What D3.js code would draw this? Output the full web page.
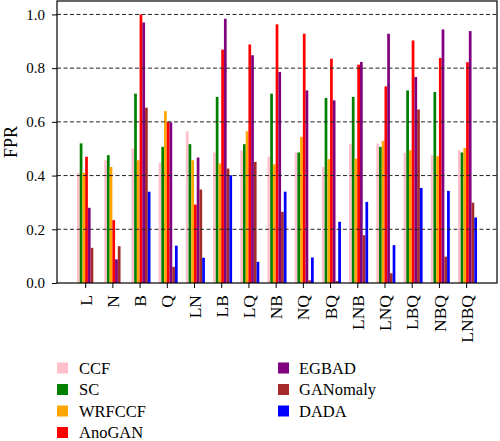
<!DOCTYPE html>
<html>
<head>
<meta charset="utf-8">
<script src="https://cdn.jsdelivr.net/npm/d3@7"></script>
<style>
  html, body { margin: 0; padding: 0; background: #fff; }
</style>
</head>
<body>
<svg id="chart" width="500" height="441"></svg>
<script>
const categories = ["L","N","B","Q","LN","LB","LQ","NB","NQ","BQ","LNB","LNQ","LBQ","NBQ","LNBQ"];
const seriesNames = ["CCF","SC","WRFCCF","AnoGAN","EGBAD","GANomaly","DADA"];
const seriesColors = ["#FFC0CB","#008000","#FFA500","#FF0000","#800080","#A52A2A","#0000FF"];
const CCF      = [0.41,0.457,0.50,0.449,0.565,0.486,0.494,0.47,0.486,0.432,0.517,0.519,0.485,0.476,0.494];
const SC       = [0.52,0.476,0.705,0.507,0.517,0.693,0.517,0.705,0.486,0.689,0.693,0.507,0.717,0.711,0.486];
const WRFCCF   = [0.41,0.432,0.457,0.64,0.457,0.445,0.565,0.442,0.544,0.461,0.463,0.529,0.494,0.472,0.503];
const AnoGAN   = [0.47,0.234,1.0,0.60,0.292,0.869,0.888,0.963,0.928,0.835,0.813,0.732,0.903,0.838,0.822];
const EGBAD    = [0.28,0.088,0.97,0.598,0.467,0.984,0.848,0.786,0.717,0.68,0.823,0.928,0.767,0.944,0.938];
const GANomaly = [0.131,0.137,0.653,0.06,0.348,0.426,0.451,0.265,0.01,0.007,0.178,0.036,0.646,0.098,0.299];
const DADA     = [0.0,0.0,0.34,0.139,0.094,0.401,0.079,0.34,0.095,0.228,0.302,0.141,0.354,0.343,0.244];
const yTicks = [0.0,0.2,0.4,0.6,0.8,1.0];
const yLabel = "FPR";

const seriesValues = [CCF, SC, WRFCCF, AnoGAN, EGBAD, GANomaly, DADA];

(function () {
const FONT = "'Liberation Serif', 'DejaVu Serif', serif";
const svg = d3.select("#chart");
const pLeft = 57, pRight = 497, pTop = 1, pBottom = 283;
const barW = 0.1;
const nS = seriesNames.length;
const span = categories.length - 1 + nS * barW;
const margin = span * 0.05;

const x = d3.scaleLinear().domain([-margin, span + margin]).range([pLeft, pRight]);
const y = d3.scaleLinear().domain([0, 1.05]).range([pBottom, pTop]);

// bars
seriesValues.forEach((vals, s) => {
  svg.append("g").selectAll("rect").data(vals).join("rect")
    .attr("x", (d, i) => x(i + s * barW))
    .attr("width", x(barW) - x(0))
    .attr("y", d => y(d))
    .attr("height", d => y(0) - y(d))
    .attr("fill", seriesColors[s]);
});

// grid (above bars)
svg.append("g").selectAll("line").data(yTicks.filter(t => t > 0)).join("line")
  .attr("x1", pLeft).attr("x2", pRight)
  .attr("y1", d => y(d)).attr("y2", d => y(d))
  .attr("stroke", "#222").attr("stroke-width", 1)
  .attr("stroke-dasharray", "4,2.5");

// y axis
const yAxis = d3.axisLeft(y).tickValues(yTicks).tickFormat(d3.format(".1f")).tickSize(5).tickPadding(7);
const gy = svg.append("g").attr("transform", `translate(${pLeft},0)`).call(yAxis)
  .attr("font-family", FONT).attr("font-size", 15);
gy.select(".domain").remove();
gy.selectAll("text").attr("fill", "#000");
gy.selectAll("line").attr("stroke", "#000");

// x axis
const xAxis = d3.axisBottom(x).tickValues(categories.map((c, i) => i + 3 * barW))
  .tickFormat((d, i) => categories[i]).tickSize(5).tickPadding(6);
const gx = svg.append("g").attr("transform", `translate(0,${pBottom})`).call(xAxis)
  .attr("font-family", FONT).attr("font-size", 17.5);
gx.select(".domain").remove();
gx.selectAll("text")
  .attr("fill", "#000")
  .attr("text-anchor", "end")
  .attr("dy", "0.35em")
  .attr("transform", "rotate(-90)")
  .attr("x", -12).attr("y", 0);
gx.selectAll("line").attr("stroke", "#000");

// frame
svg.append("rect").attr("x", pLeft).attr("y", pTop).attr("width", pRight - pLeft).attr("height", pBottom - pTop)
  .attr("fill", "none").attr("stroke", "#000").attr("stroke-width", 1.2);

// y label
svg.append("text")
  .attr("transform", `translate(11,${(pTop + pBottom) / 2}) rotate(-90)`)
  .attr("text-anchor", "middle").attr("dy", "0.35em")
  .attr("font-family", FONT).attr("font-size", 18)
  .text(yLabel);

// legend
const legCols = [{sx: 57, tx: 79}, {sx: 278, tx: 299}];
const rowY = [368, 389.5, 411, 432.5];
const leg = svg.append("g").attr("font-family", FONT).attr("font-size", 16.5);
seriesNames.forEach((name, i) => {
  const col = i < 4 ? 0 : 1;
  const row = i < 4 ? i : i - 4;
  const cy = rowY[row];
  leg.append("rect").attr("x", legCols[col].sx).attr("y", cy - 5.5)
    .attr("width", 11).attr("height", 11).attr("fill", seriesColors[i]);
  leg.append("text").attr("x", legCols[col].tx).attr("y", cy).attr("dy", "0.35em")
    .text(name);
});
})();
</script>
</body>
</html>
